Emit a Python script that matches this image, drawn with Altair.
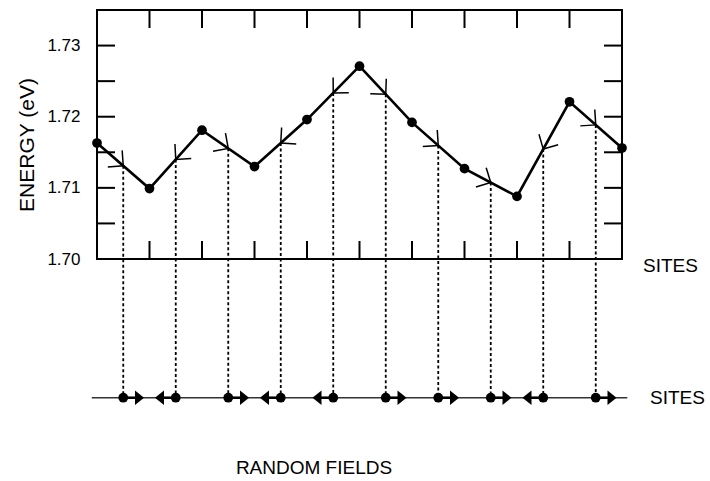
import math
import altair as alt
import pandas as pd

# ---------------- data ----------------
sites = [0, 1, 2, 3, 4, 5, 6, 7, 8, 9, 10]
energy = [1.7163, 1.7099, 1.7181, 1.7130, 1.7196, 1.7271,
          1.7192, 1.7127, 1.7088, 1.7221, 1.7156]
x_tick_values = [1, 2, 3, 4, 5, 6, 7, 8, 9]
y_tick_values = [1.705, 1.71, 1.715, 1.72, 1.725, 1.73]
y_label_values = [1.70, 1.71, 1.72, 1.73]
field_level = 1.6805           # energy-axis level of the random-field line
field_line_x = [-0.1, 10.1]
x_domain = [0, 10]
y_domain = [1.70, 1.735]

# ---------------- layout ----------------
W, H = 525, 249
TICK = 18
FONT = "Liberation Sans"
ARROW_OFFSET = 0.31

px_x = W / (x_domain[1] - x_domain[0])
px_y = H / (y_domain[1] - y_domain[0])

pts = pd.DataFrame({"site": sites, "energy": energy})

mids = []
for i in range(len(sites) - 1):
    e0, e1 = energy[i], energy[i + 1]
    xm = (sites[i] + sites[i + 1]) / 2
    em = (e0 + e1) / 2
    dy_pix = -(e1 - e0) * px_y
    ang = math.degrees(math.atan2(dy_pix, px_x))
    direction = 1
    if e1 > e0:
        ang += 180
        direction = -1
    mids.append({"x": xm, "e": em, "angle": ang % 360, "dir": direction,
                 "level": field_level,
                 "xa": xm + direction * ARROW_OFFSET,
                 "tri_angle": 0 if direction == 1 else 180})
mid_df = pd.DataFrame(mids)

xs = alt.Scale(domain=x_domain, nice=False, zero=False)
ys = alt.Scale(domain=y_domain, nice=False, zero=False)

X = lambda f: alt.X(f, type="quantitative", scale=xs, axis=None)

base_axis = alt.Axis(values=y_label_values, format=".2f", labelFontSize=17,
                     labelFont=FONT, labelColor="black", ticks=False,
                     tickSize=0, domain=False, grid=False, labelPadding=17,
                     title=None)

one = pd.DataFrame({"a": [0]})

# frame
frame = alt.Chart(one).mark_rect(fill="white", fillOpacity=0, stroke="black",
                                 strokeWidth=2).encode(
    x=alt.value(0), x2=alt.value(W), y=alt.value(0), y2=alt.value(H))

# energy curve
line = alt.Chart(pts).mark_line(color="black", strokeWidth=2.6).encode(
    x=X("site"),
    y=alt.Y("energy:Q", scale=ys, axis=base_axis),
)
dots = alt.Chart(pts).mark_point(filled=True, color="black", size=95,
                                 opacity=1, shape="circle").encode(
    x=X("site"), y=alt.Y("energy:Q", scale=ys))

# chevrons on the curve
chev = alt.Chart(mid_df).mark_point(
    shape="M -1 -1 L 0 0 L -1 1", filled=False, color="black",
    strokeWidth=1.5, size=480, opacity=1).encode(
    x=X("x"), y=alt.Y("e:Q", scale=ys), angle=alt.Angle("angle:Q", scale=None))

# dashed drop lines
drops = alt.Chart(mid_df).mark_rule(color="black", strokeWidth=1.8,
                                    strokeDash=[3, 2.5]).encode(
    x=X("x"), y=alt.Y("e:Q", scale=ys), y2="level:Q")

# frame ticks
tick_df = pd.DataFrame({"t": x_tick_values})
ytick_df = pd.DataFrame({"t": y_tick_values})
top_ticks = alt.Chart(tick_df).mark_rule(color="black", strokeWidth=2).encode(
    x=X("t"), y=alt.value(0), y2=alt.value(TICK))
bot_ticks = alt.Chart(tick_df).mark_rule(color="black", strokeWidth=2).encode(
    x=X("t"), y=alt.value(H), y2=alt.value(H - TICK))
left_ticks = alt.Chart(ytick_df).mark_rule(color="black", strokeWidth=2).encode(
    y=alt.Y("t:Q", scale=ys), x=alt.value(0), x2=alt.value(TICK))
right_ticks = alt.Chart(ytick_df).mark_rule(color="black", strokeWidth=2).encode(
    y=alt.Y("t:Q", scale=ys), x=alt.value(W - TICK), x2=alt.value(W))

# random-field line
fl_df = pd.DataFrame({"x": [field_line_x[0]], "x2": [field_line_x[1]],
                      "level": [field_level]})
field_line = alt.Chart(fl_df).mark_rule(color="#333333", strokeWidth=1.3).encode(
    x=X("x"), x2="x2:Q", y=alt.Y("level:Q", scale=ys))

stems = alt.Chart(mid_df).mark_rule(color="black", strokeWidth=2.6).encode(
    x=X("x"), x2="xa:Q", y=alt.Y("level:Q", scale=ys))
tris = alt.Chart(mid_df).mark_point(
    shape="M -1 -1.6 L 1 0 L -1 1.6 Z", filled=True, color="black",
    size=81, opacity=1).encode(
    x=X("xa"), y=alt.Y("level:Q", scale=ys),
    angle=alt.Angle("tri_angle:Q", scale=None))
fdots = alt.Chart(mid_df).mark_point(filled=True, color="black", size=95,
                                     opacity=1, shape="circle").encode(
    x=X("x"), y=alt.Y("level:Q", scale=ys))

# texts
def label(text, x, y, align="left", angle=0, size=19):
    kw = dict(text=text, align=align, baseline="middle", font=FONT,
              fontSize=size, color="black")
    if angle:
        kw["angle"] = angle
    return alt.Chart(one).mark_text(**kw).encode(
        x=alt.value(x), y=alt.value(y))

t_sites1 = label("SITES", W + 21, H + 7)
t_sites2 = label("SITES", W + 28, H + 139)
t_random = label("RANDOM FIELDS", 217, 458, align="center")
t_energy = label("ENERGY  (eV)", -69, 135, align="center", angle=270, size=21)

chart = alt.layer(
    frame, drops, field_line, stems, tris, fdots,
    top_ticks, bot_ticks, left_ticks, right_ticks,
    line, chev, dots,
    t_sites1, t_sites2, t_random, t_energy,
).properties(
    width=W, height=H,
    autosize=alt.AutoSizeParams(type="none"),
    padding={"left": 97, "top": 10, "right": 88, "bottom": 222},
).configure_view(stroke=None).configure(background="white")

chart.save("out.html", embed_options={"renderer": "svg", "actions": False})
